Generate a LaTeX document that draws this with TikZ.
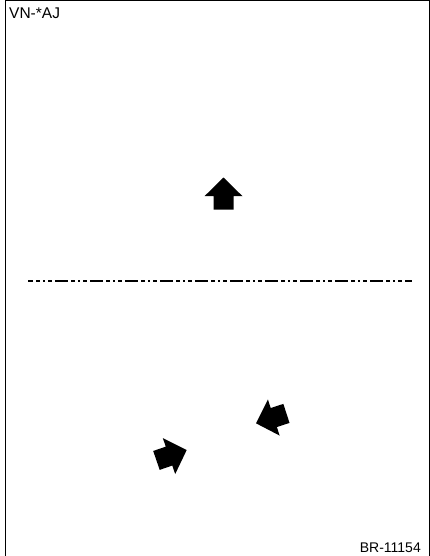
\documentclass[tikz,border=0pt]{standalone}
\usepackage{fontspec}
\setmainfont{Liberation Sans}

\begin{document}
\begin{tikzpicture}[
  x=1pt, y=1pt,
  frame/.style={line width=1pt},
  cutline/.style={line width=1.3pt, dash pattern=on 13pt off 3pt on 4pt off 3pt on 2pt off 3pt on 4pt off 3pt, dash phase=8pt},
  lbl/.style={inner sep=0pt},
  movearrow/.pic={\fill (0,0) -- (19,-18.7) -- (10,-18.7) -- (10,-32) -- (-10,-32) -- (-10,-18.7) -- (-19,-18.7) -- cycle;},
]
\useasboundingbox (0,0) rectangle (430,-556);
\draw[frame] (5.5,-556) -- (5.5,-1) -- (429,-1) -- (429,-556);
\node[lbl, anchor=base west, font=\fontsize{15.5}{17}\selectfont] (code) at (9,-19) {VN-*AJ};
\node[lbl, anchor=base east, font=\fontsize{14}{16}\selectfont] (fig) at (421,-552) {BR-11154};

% fold line
\coordinate (cutL) at (28,-281);
\coordinate (cutR) at (412,-281);
\draw[cutline] (cutL) -- (cutR);

% motion arrows
\pic[rotate=0] at (223.5,-177.5) {movearrow};
\pic[rotate=108] at (256,-423.3) {movearrow};
\pic[rotate=-71] at (186.7,-450) {movearrow};
\end{tikzpicture}
\end{document}
